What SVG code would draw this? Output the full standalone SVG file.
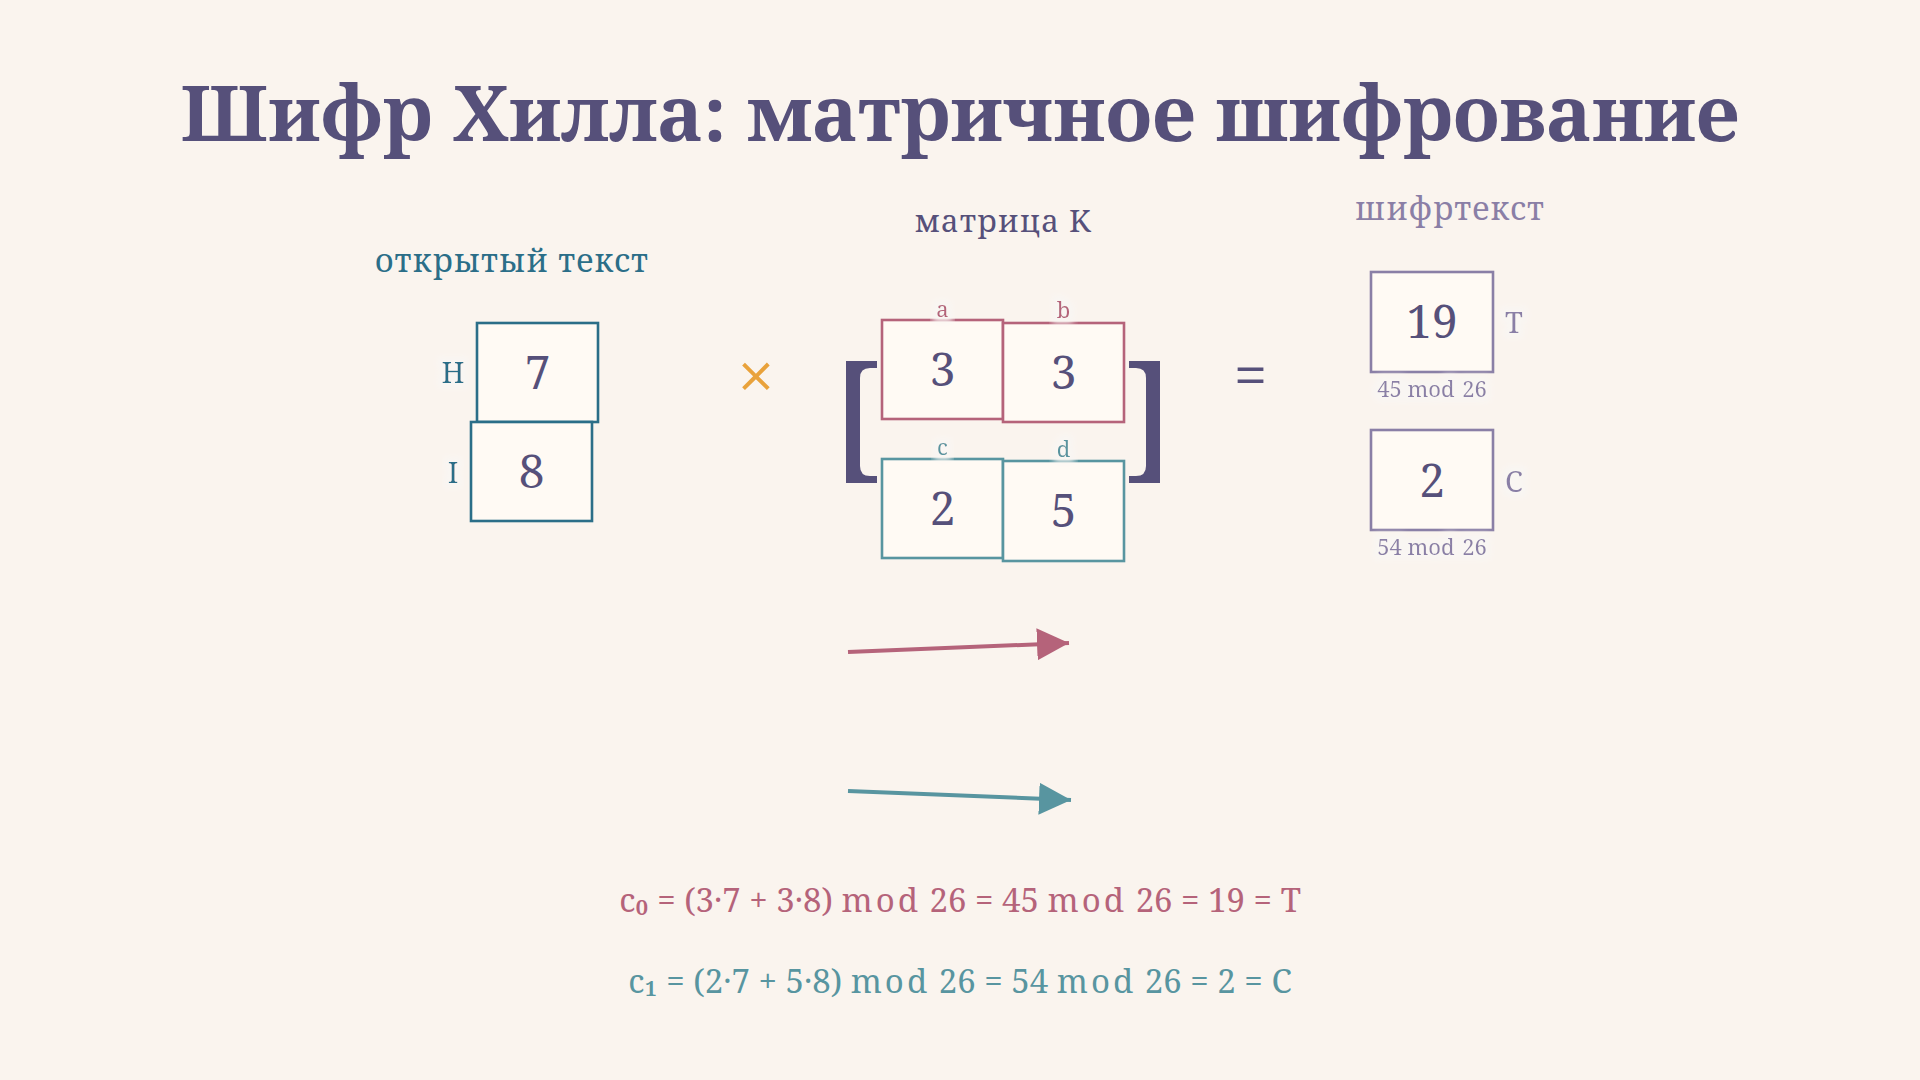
<svg xmlns="http://www.w3.org/2000/svg" width="1920" height="1080" viewBox="0 0 1920 1080">
  <defs>
    <style>
      text { font-family: "Noto Serif", "DejaVu Serif", "Liberation Serif", serif; }
      .title { font-size: 77px; font-weight: bold; fill: #56507a; }
      .head { font-size: 32px; letter-spacing: 1px; }
      .box { stroke-width: 2.6; fill: #fffaf4; }
      .num { font-size: 46px; fill: #56507a; text-anchor: middle; }
      .lab { font-size: 29px; filter: url(#halo); }
      .sm { font-size: 22px; text-anchor: middle; filter: url(#halo); }
      .eq { font-size: 33px; text-anchor: middle; }
      .op { letter-spacing: 3px; }
      .teal { stroke: #2b6e88; }
      .rose { stroke: #b5637a; }
      .lteal { stroke: #5895a0; }
      .lpur { stroke: #8a7fa6; }
    </style>
    <filter id="halo" x="-50%" y="-50%" width="200%" height="200%">
      <feMorphology in="SourceAlpha" operator="dilate" radius="5" result="d"/>
      <feGaussianBlur in="d" stdDeviation="3" result="b"/>
      <feFlood flood-color="#f9f6f3"/>
      <feComposite in2="b" operator="in" result="h"/>
      <feMerge><feMergeNode in="h"/><feMergeNode in="SourceGraphic"/></feMerge>
    </filter>
    <marker id="ahRose" viewBox="0 0 32 32" refX="32" refY="16" markerWidth="32" markerHeight="32" markerUnits="userSpaceOnUse" orient="auto">
      <path d="M0,0 L32,16 L0,32 Z" fill="#b5637a"/>
    </marker>
    <marker id="ahTeal" viewBox="0 0 32 32" refX="32" refY="16" markerWidth="32" markerHeight="32" markerUnits="userSpaceOnUse" orient="auto">
      <path d="M0,0 L32,16 L0,32 Z" fill="#5895a0"/>
    </marker>
  </defs>

  <rect x="0" y="0" width="1920" height="1080" fill="#faf4ee"/>

  <text class="title" x="960" y="141" text-anchor="middle">Шифр Хилла: матричное шифрование</text>

  <!-- plaintext -->
  <g id="plaintext">
    <text class="head" x="512" y="272" text-anchor="middle" fill="#2b6e88">открытый текст</text>
    <g id="p0">
      <rect class="box teal" x="477" y="323" width="121" height="99"/>
      <text class="num" x="537.5" y="389">7</text>
      <text class="lab" x="453" y="383" text-anchor="middle" fill="#2b6e88">H</text>
    </g>
    <g id="p1">
      <rect class="box teal" x="471" y="422" width="121" height="99"/>
      <text class="num" x="531.5" y="488">8</text>
      <text class="lab" x="453" y="483" text-anchor="middle" fill="#2b6e88">I</text>
    </g>
  </g>

  <text id="times" x="756" y="400" font-size="66" text-anchor="middle" fill="#e9a23b">×</text>

  <!-- key matrix -->
  <g id="matrix">
    <text class="head" x="1003" y="232" text-anchor="middle" fill="#56507a" style="font-size:31px">матрица K</text>
    <path d="M877,361 L846,361 L846,483 L877,483 L877,476 L870,476 Q860,476 860,466 L860,378 Q860,368 870,368 L877,368 Z" fill="#56507a"/>
    <path d="M1129,361 L1160,361 L1160,483 L1129,483 L1129,476 L1136,476 Q1146,476 1146,466 L1146,378 Q1146,368 1136,368 L1129,368 Z" fill="#56507a"/>
    <g id="ka">
      <rect class="box rose" x="882" y="320" width="121" height="99"/>
      <text class="num" x="942.5" y="386">3</text>
      <text class="sm" x="942.5" y="317" fill="#b5637a">a</text>
    </g>
    <g id="kb">
      <rect class="box rose" x="1003" y="323" width="121" height="99"/>
      <text class="num" x="1063.5" y="389">3</text>
      <text class="sm" x="1063.5" y="318" fill="#b5637a">b</text>
    </g>
    <g id="kc">
      <rect class="box lteal" x="882" y="459" width="121" height="99"/>
      <text class="num" x="942.5" y="525">2</text>
      <text class="sm" x="942.5" y="455" fill="#5895a0">c</text>
    </g>
    <g id="kd">
      <rect class="box lteal" x="1003" y="461" width="121" height="100"/>
      <text class="num" x="1063.5" y="527">5</text>
      <text class="sm" x="1063.5" y="457" fill="#5895a0">d</text>
    </g>
  </g>

  <text id="equals" x="1250.5" y="397" font-size="60" text-anchor="middle" fill="#56507a">=</text>

  <!-- ciphertext -->
  <g id="ciphertext">
    <text class="head" x="1450" y="220" text-anchor="middle" fill="#8a7fa6">шифртекст</text>
    <g id="c0">
      <rect class="box lpur" x="1371" y="272" width="122" height="100"/>
      <text class="num" x="1432" y="338">19</text>
      <text class="lab" x="1505" y="333" fill="#8a7fa6">T</text>
      <text class="sm" x="1432" y="397" fill="#8a7fa6">45 mod <tspan dx="2">26</tspan></text>
    </g>
    <g id="c1">
      <rect class="box lpur" x="1371" y="430" width="122" height="100"/>
      <text class="num" x="1432" y="497">2</text>
      <text class="lab" x="1505" y="492" fill="#8a7fa6">C</text>
      <text class="sm" x="1432" y="555" fill="#8a7fa6">54 mod <tspan dx="2">26</tspan></text>
    </g>
  </g>

  <g id="connectors">
    <line x1="848" y1="652" x2="1069" y2="643" stroke="#b5637a" stroke-width="4" marker-end="url(#ahRose)"/>
    <line x1="848" y1="791" x2="1071" y2="800" stroke="#5895a0" stroke-width="4" marker-end="url(#ahTeal)"/>
  </g>

  <g id="equations">
    <text class="eq" x="960" y="912" fill="#b5637a">c₀ = (3·7 + 3·8) <tspan class="op">mod</tspan> 26 = 45 <tspan class="op">mod</tspan> 26 = 19 = T</text>
    <text class="eq" x="960" y="993" fill="#5895a0">c₁ = (2·7 + 5·8) <tspan class="op">mod</tspan> 26 = 54 <tspan class="op">mod</tspan> 26 = 2 = C</text>
  </g>
</svg>
